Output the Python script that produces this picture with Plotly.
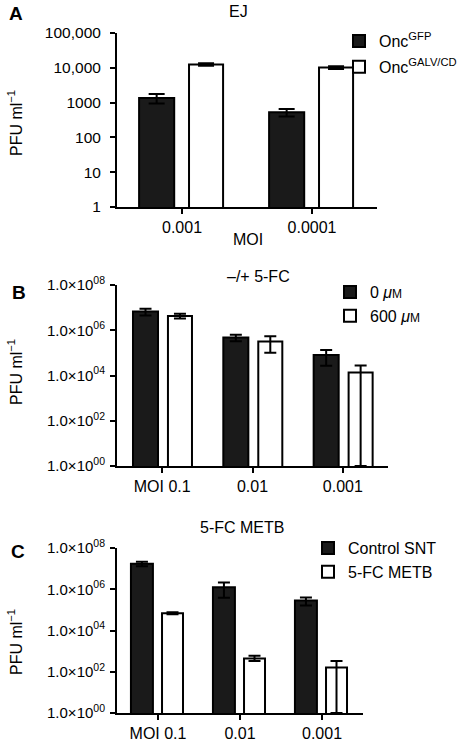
import plotly.graph_objects as go

# ---------------- data ----------------
a_categories = ["0.001", "0.0001"]
a_onc_gfp = [1360, 530]
a_onc_gfp_err = [420, 130]
a_onc_galv = [12500, 10200]
a_onc_galv_err = [1000, 900]
a_tickvals = [1, 10, 100, 1000, 10000, 100000]
a_ticktext = ["1", "10", "100", "1000", "10,000", "100,000"]

b_categories = ["MOI 0.1", "0.01", "0.001"]
b_0uM = [6.7e6, 4.8e5, 8.1e4]
b_0uM_err = [2.2e6, 1.5e5, 5.4e4]
b_600uM = [4.3e6, 3.2e5, 1.35e4]
b_600uM_err_up = [1.0e6, 2.2e5, 1.45e4]
b_600uM_err_low = [1.0e6, 2.2e5, 13499]   # last one reaches the axis floor

c_categories = ["MOI 0.1", "0.01", "0.001"]
c_control = [1.72e7, 1.26e6, 2.82e5]
c_control_err = [4.3e6, 8.7e5, 1.2e5]
c_metb = [6.9e4, 444, 162]
c_metb_err_up = [8e3, 146, 166]
c_metb_err_low = [8e3, 114, 161]          # last one reaches the axis floor

bc_tickvals = [1, 1e2, 1e4, 1e6, 1e8]
bc_ticktext = ["1.0×10<sup>00</sup>", "1.0×10<sup>02</sup>", "1.0×10<sup>04</sup>",
               "1.0×10<sup>06</sup>", "1.0×10<sup>08</sup>"]

# ---------------- layout helpers ----------------
W, H = 462, 742
FONT = "Liberation Sans, Arial, Helvetica, sans-serif"
DARK = "#1a1a1a"


def fx(p):
    return p / W


def fy(p):
    return 1 - p / H


fig = go.Figure()


def err(up, low, capw):
    return dict(type="data", array=up, arrayminus=low, symmetric=False, visible=True,
                color="black", thickness=2, width=capw)


def add_pair(xs, ya, yb, ea, eb, names, xaxis, yaxis, legend, offs, widths):
    fig.add_trace(go.Bar(
        x=xs, y=ya, name=names[0], xaxis=xaxis, yaxis=yaxis, legend=legend,
        legendgroup=legend + "a", offset=offs[0], width=widths[0],
        marker=dict(color=DARK, line=dict(color="black", width=2)),
        error_y=ea,
    ))
    fig.add_trace(go.Bar(
        x=xs, y=yb, name=names[1], xaxis=xaxis, yaxis=yaxis, legend=legend,
        legendgroup=legend + "b", offset=offs[1], width=widths[1],
        marker=dict(color="white", line=dict(color="black", width=2)),
        error_y=eb,
    ))


add_pair(a_categories, a_onc_gfp, a_onc_galv,
         err(a_onc_gfp_err, a_onc_gfp_err, 8), err(a_onc_galv_err, a_onc_galv_err, 8),
         ["Onc<sup>GFP</sup>", "Onc<sup>GALV/CD</sup>"], "x", "y", "legend",
         (-0.33, 0.054), (0.27, 0.262))
add_pair(b_categories, b_0uM, b_600uM,
         err(b_0uM_err, b_0uM_err, 6), err(b_600uM_err_up, b_600uM_err_low, 6),
         ["0 <i>μ</i><span style='font-size:12px'>M</span>",
          "600 <i>μ</i><span style='font-size:12px'>M</span>"],
         "x2", "y2", "legend2", (-0.323, 0.064), (0.277, 0.266))
add_pair(c_categories, c_control, c_metb,
         err(c_control_err, c_control_err, 6), err(c_metb_err_up, c_metb_err_low, 6),
         ["Control SNT", "5-FC METB"], "x3", "y3", "legend3",
         (-0.33, 0.049), (0.268, 0.256))

axis_common = dict(showline=True, linecolor="black", linewidth=2, ticks="outside",
                   tickcolor="black", tickwidth=2, ticklen=5, showgrid=False,
                   zeroline=False, automargin=False)

fig.update_layout(
    width=W, height=H, margin=dict(l=0, r=0, t=0, b=0, autoexpand=False),
    paper_bgcolor="white", plot_bgcolor="white",
    barmode="overlay", font=dict(family=FONT, size=16, color="black"),
    xaxis=dict(domain=[fx(117), fx(377)], anchor="y", type="category",
               tickfont=dict(family=FONT, size=16, color="black"), **axis_common),
    yaxis=dict(domain=[fy(207), fy(33)], anchor="x", type="log", range=[0, 5],
               tickvals=a_tickvals, ticktext=a_ticktext, ticklabelstandoff=6,
               tickfont=dict(family=FONT, size=15.5, color="black"), **axis_common),
    xaxis2=dict(domain=[fx(117), fx(388)], anchor="y2", type="category",
                tickfont=dict(family=FONT, size=16, color="black"), **axis_common),
    yaxis2=dict(domain=[fy(466), fy(285)], anchor="x2", type="log", range=[0, 8],
                tickvals=bc_tickvals, ticktext=bc_ticktext, ticklabelstandoff=2,
                tickfont=dict(family=FONT, size=15, color="black"), **axis_common),
    xaxis3=dict(domain=[fx(117), fx(363)], anchor="y3", type="category",
                tickfont=dict(family=FONT, size=16, color="black"), **axis_common),
    yaxis3=dict(domain=[fy(713), fy(548)], anchor="x3", type="log", range=[0, 8],
                tickvals=bc_tickvals, ticktext=bc_ticktext, ticklabelstandoff=2,
                tickfont=dict(family=FONT, size=15, color="black"), **axis_common),
    legend=dict(x=1, y=fy(24), xanchor="right", yanchor="top",
                font=dict(family=FONT, size=16), bgcolor="rgba(0,0,0,0)",
                tracegroupgap=2),
    legend2=dict(x=fx(330), y=fy(275), xanchor="left", yanchor="top",
                 font=dict(family=FONT, size=16), bgcolor="rgba(0,0,0,0)",
                 tracegroupgap=0),
    legend3=dict(x=fx(308), y=fy(531), xanchor="left", yanchor="top",
                 font=dict(family=FONT, size=16), bgcolor="rgba(0,0,0,0)",
                 tracegroupgap=0),
    showlegend=True,
)

annots = [
    dict(text="<b>A</b>", x=16, y=13, size=19),
    dict(text="<b>B</b>", x=19, y=292, size=19),
    dict(text="<b>C</b>", x=18, y=551, size=19),
    dict(text="EJ", x=238, y=12, size=16),
    dict(text="–/+ 5-FC", x=258, y=276, size=16),
    dict(text="5-FC METB", x=242, y=527, size=16),
    dict(text="MOI", x=248, y=240, size=16),
]
for a in annots:
    fig.add_annotation(text=a["text"], x=fx(a["x"]), y=fy(a["y"]), xref="paper", yref="paper",
                       showarrow=False, xanchor="center", yanchor="middle",
                       font=dict(family=FONT, size=a["size"], color="black"))

for yc in (123, 372, 642):
    fig.add_annotation(text="PFU ml<sup>−1</sup>", x=fx(15), y=fy(yc), xref="paper", yref="paper",
                       showarrow=False, textangle=-90, xanchor="center", yanchor="middle",
                       font=dict(family=FONT, size=16, color="black"))

# remove the default 8px page margin so the figure fills the window exactly
fig.write_html("out.html", config={"displayModeBar": False},
               post_script="document.body.style.margin='0';document.body.style.overflow='hidden';")
